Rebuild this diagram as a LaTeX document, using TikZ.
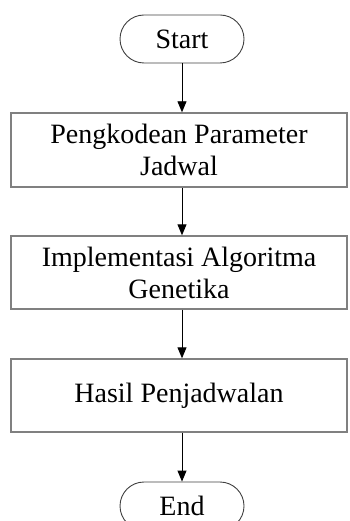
\documentclass[tikz,border=0pt]{standalone}
\usepackage{fontspec}
\setmainfont{Liberation Serif}
\usetikzlibrary{shapes.misc,arrows.meta}
\begin{document}
\begin{tikzpicture}[x=1pt,y=1pt,
  term/.style={rounded rectangle, draw=black!75, line width=0.9pt, minimum width=124pt, minimum height=48pt, inner sep=0pt, font=\fontsize{28}{32}\selectfont},
  procbox/.style={rectangle, draw=black!50, line width=1.4pt, minimum width=336pt, inner sep=0pt, align=center, font=\fontsize{28}{32}\selectfont},
  flow/.style={line width=0.9pt, -{Triangle[width=9pt,length=11pt]}}]
\useasboundingbox (0,0) rectangle (349,-521);
\clip (0,0) rectangle (349,-521);
\node[term] (start) at (182,-39) {Start};
\node[procbox, minimum height=74pt] (b1) at (179,-150) {Pengkodean Parameter\\Jadwal};
\node[procbox, minimum height=73pt] (b2) at (179,-272.5) {Implementasi Algoritma\\Genetika};
\node[procbox, minimum height=73pt] (b3) at (179,-395.5) {Hasil Penjadwalan};
\node[term] (end) at (182,-506) {End};
\draw[flow] (start.south) -- (start.south |- b1.north);
\draw[flow] (start.south |- b1.south) -- (start.south |- b2.north);
\draw[flow] (start.south |- b2.south) -- (start.south |- b3.north);
\draw[flow] (start.south |- b3.south) -- (end.north);
\end{tikzpicture}
\end{document}
